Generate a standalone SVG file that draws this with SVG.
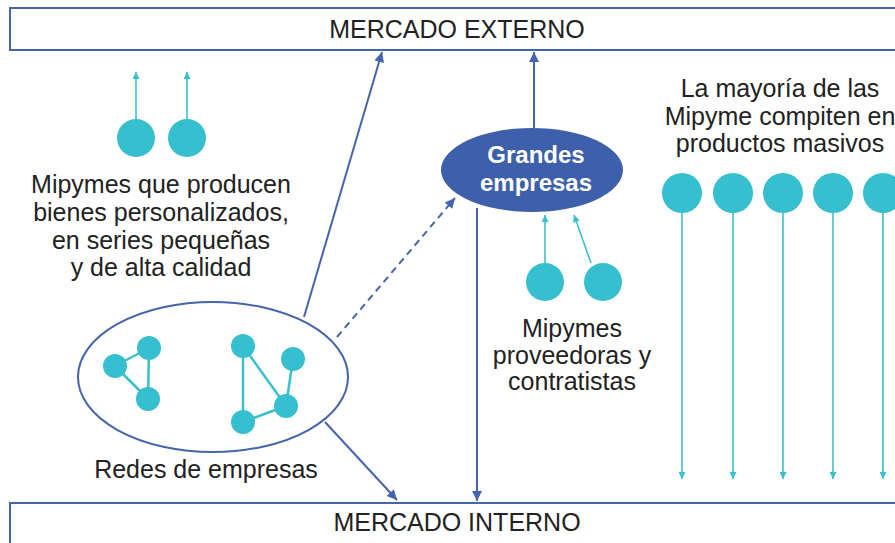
<svg xmlns="http://www.w3.org/2000/svg" width="895" height="543" viewBox="0 0 895 543">
<defs>
<style>
.txt{font-family:"Liberation Sans",Arial,sans-serif;font-size:25px;fill:#222;text-anchor:middle}
.box{fill:#fff;stroke:#4464AE;stroke-width:2}
.bl{stroke:#4464AE;stroke-width:2;fill:none}
.cy{stroke:#38C0CF;stroke-width:1.6;fill:none}
.dot{fill:#36BFCF}
.net{stroke:#38C0CF;stroke-width:2.5}
</style>
<marker id="ab" viewBox="0 0 10 10" refX="10" refY="5" markerWidth="12" markerHeight="10" markerUnits="userSpaceOnUse" orient="auto"><path d="M0,0 L10,5 L0,10 z" fill="#4464AE"/></marker>
<marker id="ac" viewBox="0 0 10 10" refX="10" refY="5" markerWidth="8" markerHeight="7" markerUnits="userSpaceOnUse" orient="auto"><path d="M0,0 L10,5 L0,10 z" fill="#38C0CF"/></marker>
</defs>
<rect width="895" height="543" fill="#fff"/>
<g id="mercado-externo"><rect class="box" x="10" y="8" width="900" height="42"/><text class="txt" x="457" y="38">MERCADO EXTERNO</text></g>
<g id="mercado-interno"><rect class="box" x="10" y="503" width="900" height="50"/><text class="txt" x="457" y="531">MERCADO INTERNO</text></g>
<g id="connectors">
<line class="bl" x1="304" y1="317" x2="382" y2="52" marker-end="url(#ab)"/>
<line class="bl" x1="534" y1="128" x2="534" y2="52" marker-end="url(#ab)"/>
<line class="bl" x1="477" y1="208" x2="477" y2="501" marker-end="url(#ab)"/>
<line class="bl" x1="325" y1="422" x2="397" y2="500" marker-end="url(#ab)"/>
<line class="bl" x1="337" y1="337" x2="455" y2="198" stroke-dasharray="7,5" marker-end="url(#ab)"/>
<line class="cy" x1="136" y1="119" x2="136" y2="72" marker-end="url(#ac)"/>
<line class="cy" x1="187" y1="119" x2="187" y2="72" marker-end="url(#ac)"/>
<line class="cy" x1="545" y1="263" x2="545" y2="215" marker-end="url(#ac)"/>
<line class="cy" x1="591" y1="263" x2="574" y2="215" marker-end="url(#ac)"/>
<line class="cy" x1="682" y1="213" x2="682" y2="479" marker-end="url(#ac)"/>
<line class="cy" x1="733" y1="213" x2="733" y2="479" marker-end="url(#ac)"/>
<line class="cy" x1="783" y1="213" x2="783" y2="479" marker-end="url(#ac)"/>
<line class="cy" x1="833" y1="213" x2="833" y2="479" marker-end="url(#ac)"/>
<line class="cy" x1="883" y1="213" x2="883" y2="479" marker-end="url(#ac)"/>
</g>
<g id="mipymes-personalizados">
<circle class="dot" cx="136" cy="138" r="19"/><circle class="dot" cx="187" cy="138" r="19"/>
<text class="txt"><tspan x="161" y="193">Mipymes que producen</tspan><tspan x="161" y="221">bienes personalizados,</tspan><tspan x="161" y="249">en series pequeñas</tspan><tspan x="161" y="276">y de alta calidad</tspan></text>
</g>
<g id="redes-de-empresas">
<ellipse cx="213" cy="377" rx="135" ry="75" fill="none" stroke="#4464AE" stroke-width="2"/>
<line class="net" x1="115" y1="366" x2="149" y2="348"/><line class="net" x1="149" y1="348" x2="148" y2="399"/><line class="net" x1="115" y1="366" x2="148" y2="399"/>
<line class="net" x1="243" y1="346" x2="243" y2="422"/><line class="net" x1="243" y1="346" x2="286" y2="406"/><line class="net" x1="293" y1="359" x2="286" y2="406"/><line class="net" x1="243" y1="422" x2="286" y2="406"/>
<circle class="dot" cx="115" cy="366" r="12"/><circle class="dot" cx="149" cy="348" r="12"/><circle class="dot" cx="148" cy="399" r="12"/>
<circle class="dot" cx="243" cy="346" r="12"/><circle class="dot" cx="293" cy="359" r="12"/><circle class="dot" cx="286" cy="406" r="12"/><circle class="dot" cx="243" cy="422" r="12"/>
<text class="txt" x="206" y="478">Redes de empresas</text>
</g>
<g id="grandes-empresas">
<ellipse cx="532" cy="170" rx="91" ry="42" fill="#3E60AB"/>
<text class="txt" style="fill:#fff;font-weight:bold;font-size:24px"><tspan x="536" y="163">Grandes</tspan><tspan x="536" y="191">empresas</tspan></text>
</g>
<g id="mipymes-proveedoras">
<circle class="dot" cx="545" cy="282" r="19"/><circle class="dot" cx="603" cy="282" r="19"/>
<text class="txt"><tspan x="572" y="337">Mipymes</tspan><tspan x="572" y="364">proveedoras y</tspan><tspan x="572" y="390">contratistas</tspan></text>
</g>
<g id="mipymes-masivos">
<text class="txt"><tspan x="780" y="97">La mayoría de las</tspan><tspan x="780" y="125">Mipyme compiten en</tspan><tspan x="780" y="152">productos masivos</tspan></text>
<circle class="dot" cx="682" cy="193" r="20"/><circle class="dot" cx="733" cy="193" r="20"/><circle class="dot" cx="783" cy="193" r="20"/><circle class="dot" cx="833" cy="193" r="20"/><circle class="dot" cx="883" cy="193" r="20"/>
</g>
</svg>
